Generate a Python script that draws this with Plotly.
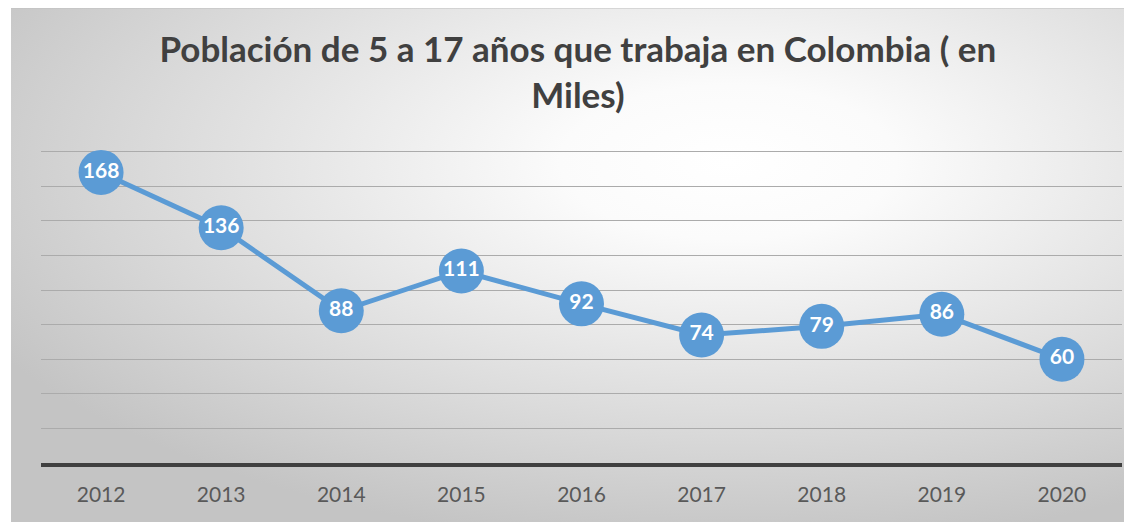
import base64
import plotly.graph_objects as go

years = ["2012", "2013", "2014", "2015", "2016", "2017", "2018", "2019", "2020"]
valores = [168, 136, 88, 111, 92, 74, 79, 86, 60]

title_text = "Población de 5 a 17 años que trabaja en Colombia ( en<br>Miles)"

# la pagina tiene 8px de margen en el body
W, H = 1124, 514
ml, mr, mt, mb = 33, 10, 135, 59
pw, ph = W - ml - mr, H - mt - mb

# fondo degradado radial como imagen svg
svg = """<svg xmlns='http://www.w3.org/2000/svg' width='1121' height='514' viewBox='0 0 1121 514' preserveAspectRatio='none'>
<defs><radialGradient id='g' cx='0.64' cy='0.3' r='0.75' gradientUnits='objectBoundingBox'>
<stop offset='0' stop-color='#ffffff'/><stop offset='0.2' stop-color='#fbfbfb'/>
<stop offset='0.7' stop-color='#d9d9d9'/><stop offset='1' stop-color='#c4c4c4'/></radialGradient></defs>
<rect width='1121' height='514' fill='url(#g)'/></svg>"""
src = "data:image/svg+xml;base64," + base64.b64encode(svg.encode()).decode()

x0, y0 = 3, 0
fig = go.Figure()
fig.add_trace(go.Scatter(
    x=years, y=valores, mode="lines+markers+text",
    line=dict(color="#5B9BD5", width=5),
    marker=dict(size=45, color="#5B9BD5"),
    text=[str(v) for v in valores], textposition="middle center",
    textfont=dict(family="Lato", size=21, color="white", weight="bold"),
    hoverinfo="skip", showlegend=False, cliponaxis=False,
))

fig.update_layout(
    width=W, height=H,
    margin=dict(l=ml, r=mr, t=mt, b=mb),
    paper_bgcolor="white", plot_bgcolor="rgba(0,0,0,0)",
    title=dict(text=title_text, x=0.507, xanchor="center", xref="container",
               y=1 - 54 / H, yanchor="top",
               font=dict(family="Lato", size=35, color="#404040", weight="bold")),
    images=[dict(source=src, xref="paper", yref="paper",
                 x=(x0 - ml) / pw, y=(H - mb - y0) / ph,
                 sizex=(W - x0) / pw, sizey=(H - y0) / ph,
                 xanchor="left", yanchor="top", sizing="stretch", layer="below")],
    shapes=[dict(type="line", xref="paper", yref="paper",
                 x0=(x0 - ml) / pw, x1=(W - ml) / pw,
                 y0=(H - mb - y0) / ph, y1=(H - mb - y0) / ph,
                 line=dict(color="#BFBFBF", width=1))],
    xaxis=dict(showgrid=False, showline=True, linecolor="#404040", linewidth=4,
               ticks="", tickfont=dict(family="Lato", size=21, color="#595959"),
               ticklabelstandoff=10, range=[-0.5, 8.5], fixedrange=True),
    yaxis=dict(range=[0, 185], dtick=20, showticklabels=False, zeroline=False,
               gridcolor="#ABABAB", gridwidth=1, showline=False),
)

fig.write_html("out.html")
